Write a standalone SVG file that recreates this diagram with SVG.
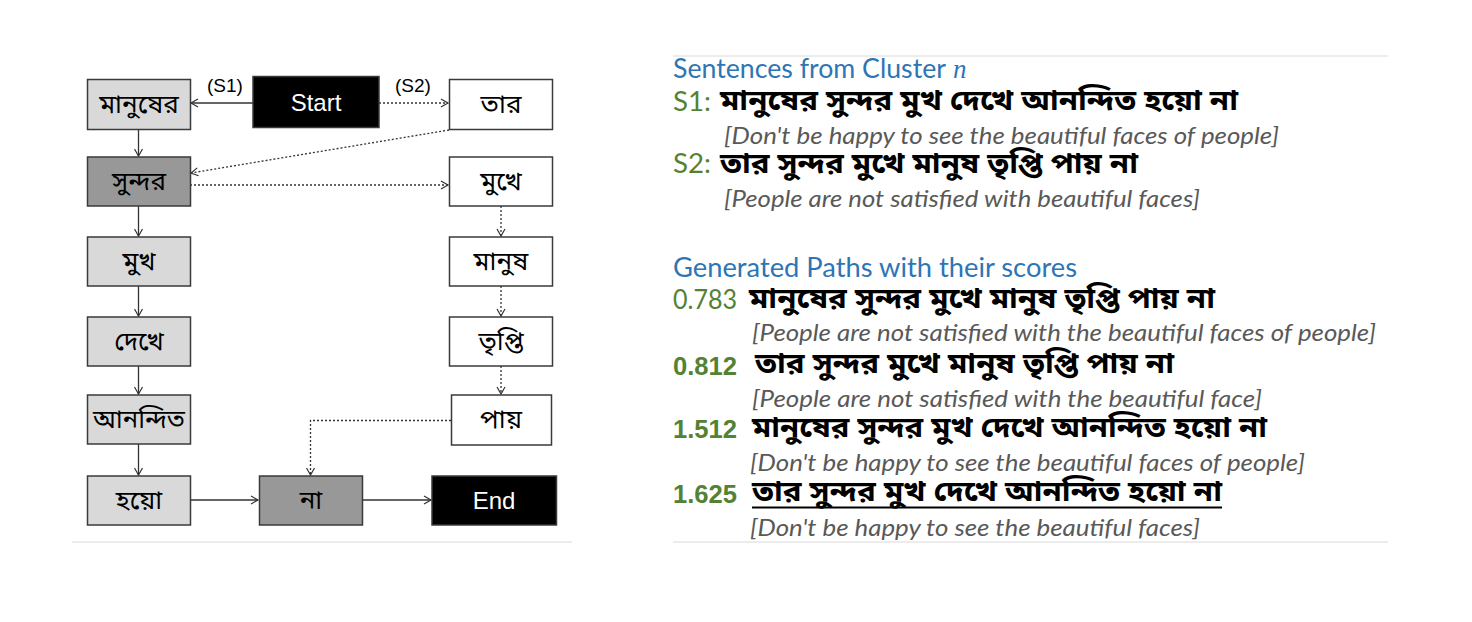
<svg xmlns="http://www.w3.org/2000/svg" width="1472" height="622" viewBox="0 0 1472 622">
<style>
.node rect{stroke:#3a3a3a;stroke-width:1.5}
.lt{fill:#d9d9d9}
.dk{fill:#989898}
.wh{fill:#ffffff}
.bk{fill:#000000}
.bn{font-family:"Noto Sans Bengali","Lohit Bengali","Noto Sans",sans-serif;font-size:26px;fill:#000;text-anchor:middle}
.en{font-family:"Liberation Sans",Arial,sans-serif;font-size:24px;fill:#fff;text-anchor:middle}
.lab{font-family:"Liberation Sans",Arial,sans-serif;font-size:19px;fill:#000;text-anchor:middle}
.solid{stroke:#333;stroke-width:1.3;fill:none}
.dot{stroke:#333;stroke-width:1.3;fill:none;stroke-dasharray:2 2}
.head{font-family:Lato,"Open Sans",sans-serif;font-size:26px;fill:#2e75b6}
.g{font-family:Lato,"Open Sans",sans-serif;font-size:26px;fill:#548235}
.gb{font-family:"Liberation Sans",Arial,sans-serif;font-size:25px;font-weight:bold;fill:#548235}
.bs{font-family:"Noto Sans Bengali","Lohit Bengali","Noto Sans",sans-serif;font-size:29px;font-weight:bold;fill:#000}
.tr{font-family:Lato,"Open Sans",sans-serif;font-size:24px;font-style:italic;fill:#595959}
.sep{stroke:#e6e6e6;stroke-width:1.5}
</style>
<defs>
<marker id="arr" markerWidth="10" markerHeight="10" refX="8" refY="5" orient="auto" markerUnits="userSpaceOnUse">
<path d="M1,1 L8,5 L1,9" fill="none" stroke="#333" stroke-width="1.2"/>
</marker>
</defs>

<line class="sep" x1="72" y1="542" x2="572" y2="542"/>
<line class="sep" x1="673" y1="56" x2="1388" y2="56"/>
<line class="sep" x1="673" y1="542" x2="1388" y2="542"/>

<g id="connectors">
<line class="solid" x1="253" y1="103" x2="191" y2="103" marker-end="url(#arr)"/>
<line class="dot" x1="379" y1="103" x2="448" y2="103" marker-end="url(#arr)"/>
<line class="dot" x1="449" y1="130" x2="191" y2="173" marker-end="url(#arr)"/>
<line class="dot" x1="190" y1="185" x2="448" y2="185" marker-end="url(#arr)"/>
<line class="solid" x1="138.5" y1="129" x2="138.5" y2="156" marker-end="url(#arr)"/>
<line class="solid" x1="138.5" y1="206" x2="138.5" y2="236" marker-end="url(#arr)"/>
<line class="solid" x1="138.5" y1="286" x2="138.5" y2="316" marker-end="url(#arr)"/>
<line class="solid" x1="138.5" y1="366" x2="138.5" y2="394" marker-end="url(#arr)"/>
<line class="solid" x1="138.5" y1="444" x2="138.5" y2="475" marker-end="url(#arr)"/>
<line class="dot" x1="501" y1="206" x2="501" y2="236" marker-end="url(#arr)"/>
<line class="dot" x1="501" y1="286" x2="501" y2="316" marker-end="url(#arr)"/>
<line class="dot" x1="501" y1="366" x2="501" y2="394" marker-end="url(#arr)"/>
<polyline class="dot" points="451,420.5 310.5,420.5 310.5,475" marker-end="url(#arr)"/>
<line class="solid" x1="190" y1="500" x2="258" y2="500" marker-end="url(#arr)"/>
<line class="solid" x1="362" y1="500" x2="431" y2="500" marker-end="url(#arr)"/>
<text class="lab" x="225" y="92">(S1)</text>
<text class="lab" x="413" y="92">(S2)</text>
</g>

<g id="n-manusher" class="node"><rect class="lt" x="87.5" y="79.5" width="103" height="50"/><text class="bn" x="139" y="113">মানুষের</text></g>
<g id="n-start" class="node"><rect class="bk" x="253" y="76.5" width="126" height="51"/><text class="en" x="316" y="111">Start</text></g>
<g id="n-tar" class="node"><rect class="wh" x="449.5" y="79.5" width="103" height="50"/><text class="bn" x="501" y="113">তার</text></g>
<g id="n-sundor" class="node"><rect class="dk" x="87.5" y="157" width="103" height="49"/><text class="bn" x="139" y="190">সুন্দর</text></g>
<g id="n-mukhe" class="node"><rect class="wh" x="449.5" y="157" width="103" height="49"/><text class="bn" x="501" y="190">মুখে</text></g>
<g id="n-mukh" class="node"><rect class="lt" x="87.5" y="237" width="103" height="49"/><text class="bn" x="139" y="270">মুখ</text></g>
<g id="n-manush" class="node"><rect class="wh" x="449.5" y="237" width="103" height="49"/><text class="bn" x="501" y="270">মানুষ</text></g>
<g id="n-dekhe" class="node"><rect class="lt" x="87.5" y="317" width="103" height="49"/><text class="bn" x="139" y="350">দেখে</text></g>
<g id="n-tripti" class="node"><rect class="wh" x="449.5" y="317" width="103" height="49"/><text class="bn" x="501" y="350">তৃপ্তি</text></g>
<g id="n-anondito" class="node"><rect class="lt" x="87.5" y="395" width="103" height="49"/><text class="bn" x="139" y="428" textLength="92" lengthAdjust="spacingAndGlyphs">আনন্দিত</text></g>
<g id="n-pay" class="node"><rect class="wh" x="451.5" y="395" width="100" height="50"/><text class="bn" x="501" y="428">পায়</text></g>
<g id="n-hoyo" class="node"><rect class="lt" x="87.5" y="476" width="103" height="49"/><text class="bn" x="139" y="509">হয়ো</text></g>
<g id="n-na" class="node"><rect class="dk" x="259.5" y="476" width="103" height="49"/><text class="bn" x="311" y="509">না</text></g>
<g id="n-end" class="node"><rect class="bk" x="432" y="476" width="124.5" height="49"/><text class="en" x="494" y="509">End</text></g>

<g id="panel-text">
<text class="head" x="673" y="78" textLength="273" lengthAdjust="spacingAndGlyphs">Sentences from Cluster</text>
<text x="953" y="78" font-family="Liberation Serif,serif" font-style="italic" font-size="27" fill="#2e75b6">n</text>
<text class="g" x="673" y="111" textLength="38" lengthAdjust="spacingAndGlyphs">S1:</text>
<text class="bs" x="720" y="110" textLength="518" lengthAdjust="spacingAndGlyphs">মানুষের সুন্দর মুখ দেখে আনন্দিত হয়ো না</text>
<text class="tr" x="724" y="144" textLength="555" lengthAdjust="spacingAndGlyphs">[Don't be happy to see the beautiful faces of people]</text>
<text class="g" x="673" y="173" textLength="38" lengthAdjust="spacingAndGlyphs">S2:</text>
<text class="bs" x="720" y="173" textLength="418" lengthAdjust="spacingAndGlyphs">তার সুন্দর মুখে মানুষ তৃপ্তি পায় না</text>
<text class="tr" x="724" y="207" textLength="476" lengthAdjust="spacingAndGlyphs">[People are not satisfied with beautiful faces]</text>

<text class="head" x="673" y="277" textLength="404" lengthAdjust="spacingAndGlyphs">Generated Paths with their scores</text>
<text class="g" x="673" y="309" textLength="64" lengthAdjust="spacingAndGlyphs">0.783</text>
<text class="bs" x="749" y="308" textLength="466" lengthAdjust="spacingAndGlyphs">মানুষের সুন্দর মুখে মানুষ তৃপ্তি পায় না</text>
<text class="tr" x="752" y="341" textLength="624" lengthAdjust="spacingAndGlyphs">[People are not satisfied with the beautiful faces of people]</text>
<text class="gb" x="673" y="375" textLength="64" lengthAdjust="spacingAndGlyphs">0.812</text>
<text class="bs" x="755" y="373" textLength="419" lengthAdjust="spacingAndGlyphs">তার সুন্দর মুখে মানুষ তৃপ্তি পায় না</text>
<text class="tr" x="752" y="407" textLength="510" lengthAdjust="spacingAndGlyphs">[People are not satisfied with the beautiful face]</text>
<text class="gb" x="673" y="438" textLength="64" lengthAdjust="spacingAndGlyphs">1.512</text>
<text class="bs" x="752" y="437" textLength="515" lengthAdjust="spacingAndGlyphs">মানুষের সুন্দর মুখ দেখে আনন্দিত হয়ো না</text>
<text class="tr" x="750" y="471" textLength="555" lengthAdjust="spacingAndGlyphs">[Don't be happy to see the beautiful faces of people]</text>
<text class="gb" x="673" y="503" textLength="64" lengthAdjust="spacingAndGlyphs">1.625</text>
<text class="bs" x="752" y="501" textLength="470" lengthAdjust="spacingAndGlyphs">তার সুন্দর মুখ দেখে আনন্দিত হয়ো না</text>
<line x1="752" y1="507.5" x2="1222" y2="507.5" stroke="#000" stroke-width="2"/>
<text class="tr" x="750" y="536" textLength="450" lengthAdjust="spacingAndGlyphs">[Don't be happy to see the beautiful faces]</text>
</g>
</svg>
